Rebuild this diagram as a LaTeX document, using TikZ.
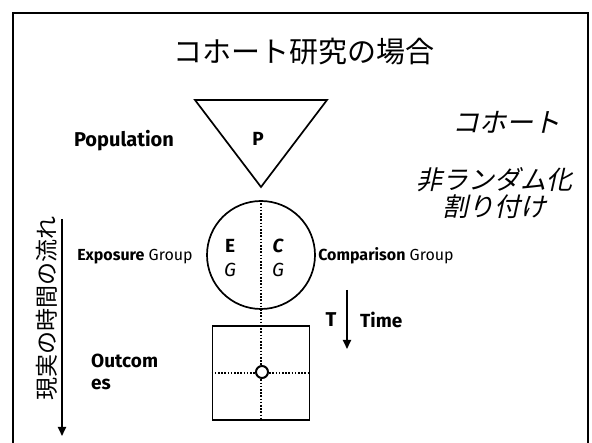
\documentclass[tikz,border=0pt]{standalone}
\usepackage{fontspec}
\setmainfont{Fira Sans}
\newfontfamily\jp{Noto Sans CJK JP}
\newfontfamily\jpit[FakeSlant=0.22]{Noto Sans CJK JP}
\usetikzlibrary{arrows.meta}
\begin{document}
\begin{tikzpicture}[x=1pt,y=-1pt,
  thick line/.style={line width=1.7pt},
  dotline/.style={line width=2.1pt, dash pattern=on 1.6pt off 1.6pt},
  arr/.style={line width=1.8pt, -{Triangle[length=9pt,width=8pt]}},
  lbl/.style={inner sep=0pt, anchor=center},
]
\useasboundingbox (0,0) rectangle (592,443);
% frame
\draw[thick line] (13,443) -- (13,13) -- (588,13) -- (588,443);
% title
\node[lbl, font=\jp\fontsize{29}{29}\selectfont] (title) at (304,52) {コホート研究の場合};
% population triangle
\coordinate (tl) at (195,100);
\coordinate (tr) at (327,100);
\coordinate (tb) at (261,187);
\draw[thick line, line join=miter] (tl) -- (tr) -- (tb) -- cycle;
\node[lbl, font=\fontsize{19}{19}\selectfont\bfseries] (p) at (258,139) {P};
\node[lbl, font=\fontsize{20}{20}\selectfont\bfseries] (pop) at (124,141) {Population};
% right texts
\node[lbl, font=\jpit\fontsize{27}{27}\selectfont] (cohort) at (506,122) {コホート};
\node[lbl, align=center, font=\jpit\fontsize{26}{27}\selectfont] (nonrand) at (494,193) {非ランダム化\\割り付け};
% groups circle
\node[circle, draw, thick line, minimum size=108pt, inner sep=0pt] (grp) at (261,255) {};
\node[lbl, font=\fontsize{19}{19}\selectfont\bfseries] (e1) at (230,246) {E};
\node[lbl, font=\fontsize{19}{19}\selectfont\itshape] (e2) at (230,270) {G};
\node[lbl, font=\fontsize{19}{19}\selectfont\bfseries\itshape] (c1) at (278,246) {C};
\node[lbl, font=\fontsize{19}{19}\selectfont\itshape] (c2) at (278,270) {G};
\node[lbl, font=\fontsize{16}{16}\selectfont] (expo) at (135,257) {\textbf{Exposure} Group};
\node[lbl, font=\fontsize{16}{16}\selectfont] (comp) at (386,256) {\textbf{Comparison} Group};
% outcome square
\node[draw, thick line, minimum width=97pt, minimum height=94pt, inner sep=0pt] (out) at (261,373) {};
\draw[dotline] (grp.north) -- (out.south);
\draw[dotline] (out.west) -- (out.east);
\node[circle, draw, line width=2pt, fill=white, minimum size=12pt, inner sep=0pt] (o) at (262,372) {};
\node[lbl, anchor=west, align=left, font=\fontsize{19}{22}\selectfont\bfseries] (outc) at (91,372) {Outcom\\es};
% time arrow
\coordinate (ts) at (347,290);
\coordinate (te) at (347,349);
\draw[arr] (ts) -- (te);
\node[lbl, font=\fontsize{20}{20}\selectfont\bfseries] (T) at (331,320) {T};
\node[lbl, anchor=west, font=\fontsize{19}{19}\selectfont\bfseries] (time) at (360,320) {Time};
% real time flow
\coordinate (ls) at (62,219);
\coordinate (le) at (62,436);
\draw[arr] (ls) -- (le);
\node[lbl, rotate=90, font=\jp\fontsize{23}{23}\selectfont] (flow) at (47,309) {現実の時間の流れ};
\end{tikzpicture}
\end{document}
